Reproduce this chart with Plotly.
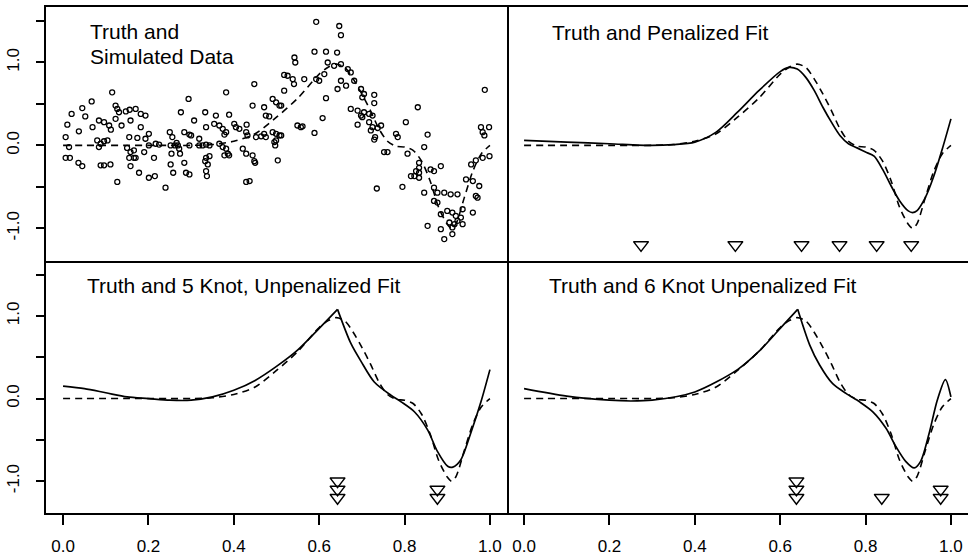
import plotly.graph_objects as go

# ---- true regression function (dashed curve) ----
truth_x = [0.00, 0.05, 0.10, 0.15, 0.20, 0.25, 0.30, 0.35, 0.40, 0.45, 0.50, 0.55,
           0.60, 0.62, 0.64, 0.66, 0.68, 0.70, 0.72, 0.74, 0.76, 0.78, 0.80, 0.82,
           0.84, 0.86, 0.88, 0.90, 0.91, 0.92, 0.94, 0.96, 0.98, 1.00]
truth_y = [0.00, 0.00, 0.00, 0.00, 0.00, 0.00, 0.00, 0.01, 0.05, 0.14, 0.34, 0.57,
           0.86, 0.94, 0.98, 0.94, 0.80, 0.62, 0.42, 0.20, 0.05, -0.01, -0.02, -0.06,
           -0.19, -0.43, -0.75, -0.95, -1.00, -0.95, -0.63, -0.31, -0.10, 0.00]

# ---- simulated data ----
sim_x = [0.115, 0.067, 0.045, 0.020, 0.052, 0.010, 0.037, 0.006, 0.014, 0.006, 0.016, 0.036,
         0.045, 0.088, 0.096, 0.111, 0.123, 0.127, 0.131, 0.147, 0.156, 0.170, 0.182, 0.193,
         0.084, 0.096, 0.108, 0.069, 0.112, 0.123, 0.137, 0.158, 0.182, 0.080, 0.088, 0.084,
         0.096, 0.104, 0.155, 0.174, 0.193, 0.201, 0.150, 0.166, 0.158, 0.155, 0.166, 0.170,
         0.158, 0.190, 0.178, 0.213, 0.201, 0.217, 0.225, 0.127, 0.201, 0.215, 0.240, 0.250,
         0.256, 0.252, 0.262, 0.266, 0.254, 0.252, 0.258,
         0.542, 0.544, 0.518, 0.526, 0.538, 0.541, 0.565, 0.448, 0.382, 0.294, 0.444, 0.471,
         0.491, 0.499, 0.507, 0.475, 0.483, 0.276, 0.333, 0.358, 0.389, 0.307, 0.335, 0.354,
         0.366, 0.374, 0.382, 0.378, 0.401, 0.405, 0.413, 0.430, 0.429, 0.432, 0.284, 0.296,
         0.300, 0.319, 0.452, 0.464, 0.471, 0.475, 0.491, 0.499, 0.507, 0.549, 0.499, 0.497,
         0.503, 0.269, 0.272, 0.274, 0.296, 0.319, 0.327, 0.335, 0.343, 0.366, 0.374, 0.382,
         0.389, 0.378, 0.386, 0.421, 0.429, 0.444, 0.450, 0.284, 0.335, 0.343, 0.333, 0.339,
         0.288, 0.296, 0.335, 0.337, 0.429, 0.437, 0.448, 0.518, 0.511, 0.557, 0.561, 0.589,
         0.511, 0.495,
         0.593, 0.647, 0.651, 0.589, 0.616, 0.642, 0.620, 0.635, 0.651, 0.667, 0.674, 0.593,
         0.600, 0.612, 0.616, 0.651, 0.663, 0.643, 0.682, 0.698, 0.705, 0.701, 0.729, 0.729,
         0.674, 0.690, 0.705, 0.717, 0.725, 0.698, 0.701, 0.831, 0.803, 0.608, 0.690, 0.717,
         0.725, 0.737, 0.745, 0.721, 0.731, 0.729, 0.780, 0.784, 0.752, 0.760, 0.807, 0.735,
         0.795, 0.834, 0.827, 0.823, 0.834,
         0.854, 0.846, 0.979, 0.983, 0.987, 0.998, 0.999, 0.983, 0.967, 0.956, 0.815, 0.834,
         0.834, 0.861, 0.869, 0.885, 0.846, 0.869, 0.877, 0.893, 0.908, 0.924, 0.869, 0.877,
         0.944, 0.960, 0.975, 0.967, 0.971, 0.960, 0.885, 0.900, 0.912, 0.920, 0.932, 0.924,
         0.936, 0.905, 0.917, 0.936, 0.854, 0.885, 0.912, 0.893, 0.912, 0.988]
sim_y = [0.64, 0.53, 0.45, 0.38, 0.35, 0.25, 0.17, 0.10, -0.02, -0.15, -0.15, -0.21,
         -0.25, -0.24, -0.24, -0.23, 0.48, 0.44, 0.40, 0.41, 0.43, 0.44, 0.38, 0.36,
         0.30, 0.28, 0.24, 0.22, 0.19, 0.32, 0.24, 0.30, 0.22, 0.06, 0.02, -0.02,
         0.05, 0.06, 0.10, 0.09, 0.08, 0.14, -0.03, -0.06, -0.08, -0.15, -0.15, -0.15,
         -0.25, -0.08, -0.33, -0.15, 0.00, 0.02, 0.01, -0.44, -0.39, -0.37, -0.51, 0.16,
         0.10, 0.00, 0.00, 0.03, -0.10, -0.23, -0.33,
         1.06, 1.00, 0.85, 0.84, 0.80, 0.74, 0.80, 0.74, 0.64, 0.56, 0.48, 0.46,
         0.56, 0.52, 0.48, 0.36, 0.35, 0.40, 0.40, 0.36, 0.37, 0.30, 0.22, 0.26,
         0.24, 0.20, 0.16, 0.13, 0.26, 0.22, 0.20, 0.25, 0.16, 0.12, 0.16, 0.13,
         0.12, 0.08, 0.10, 0.11, 0.14, 0.10, 0.16, 0.14, 0.12, 0.24, 0.06, 0.00,
         -0.18, 0.00, -0.04, -0.10, 0.00, 0.00, 0.00, 0.01, 0.00, 0.02, -0.02, -0.04,
         -0.12, -0.12, -0.10, -0.04, -0.10, -0.12, -0.21, -0.21, -0.15, -0.13, -0.19, -0.23,
         -0.33, -0.35, -0.31, -0.37, -0.44, -0.43, -0.19, 0.66, 0.48, 0.22, 0.23, 0.15,
         0.12, 0.04,
         1.49, 1.44, 1.33, 1.13, 1.13, 1.12, 1.00, 0.96, 0.98, 0.92, 0.88, 0.80,
         0.78, 0.86, 0.57, 0.78, 0.72, 0.68, 0.78, 0.68, 0.62, 0.58, 0.61, 0.51,
         0.44, 0.42, 0.40, 0.38, 0.36, 0.36, 0.34, 0.46, 0.28, 0.33, 0.25, 0.28,
         0.22, 0.21, 0.24, 0.18, 0.10, 0.07, 0.14, 0.10, -0.08, -0.08, -0.10, -0.52,
         -0.50, -0.21, -0.31, -0.37, -0.39,
         0.13, -0.02, 0.22, 0.16, 0.12, 0.22, -0.13, -0.15, -0.18, -0.23, -0.37, -0.33,
         -0.27, -0.29, -0.31, -0.25, -0.57, -0.51, -0.57, -0.57, -0.59, -0.59, -0.67, -0.69,
         -0.41, -0.43, -0.49, -0.61, -0.63, -0.81, -0.83, -0.79, -0.81, -0.85, -0.87, -0.91,
         -0.77, -0.93, -0.95, -0.95, -0.97, -1.01, -0.99, -1.13, -1.07, 0.67]

# ---- penalized spline fit ----
pen_x = [0.00, 0.10, 0.20, 0.30, 0.35, 0.40, 0.45, 0.50, 0.55, 0.60, 0.62, 0.64, 0.66,
         0.68, 0.70, 0.72, 0.74, 0.76, 0.78, 0.80, 0.82, 0.84, 0.86, 0.88, 0.90, 0.91,
         0.92, 0.94, 0.96, 0.98, 1.00]
pen_y = [0.06, 0.04, 0.02, 0.00, 0.01, 0.04, 0.16, 0.40, 0.66, 0.89, 0.94, 0.92, 0.82,
         0.66, 0.46, 0.28, 0.12, 0.02, -0.03, -0.08, -0.13, -0.29, -0.49, -0.67, -0.79, -0.81,
         -0.79, -0.63, -0.37, -0.04, 0.32]
pen_knots = [0.274, 0.495, 0.650, 0.739, 0.826, 0.907]

# ---- 5 knot unpenalized fit ----
k5_x = [0.00, 0.05, 0.10, 0.15, 0.20, 0.25, 0.30, 0.35, 0.40, 0.45, 0.50, 0.55, 0.60,
        0.643, 0.674, 0.698, 0.729, 0.768, 0.792, 0.823, 0.854, 0.877, 0.901, 0.913,
        0.932, 0.955, 0.979, 1.00]
k5_y = [0.15, 0.12, 0.07, 0.02, 0.00, -0.02, -0.02, 0.02, 0.10, 0.22, 0.39, 0.59, 0.85,
        1.08, 0.67, 0.45, 0.20, 0.04, -0.04, -0.16, -0.38, -0.64, -0.82, -0.83,
        -0.74, -0.42, -0.04, 0.35]
k5_knots = [0.643, 0.643, 0.643, 0.877, 0.877]

# ---- 6 knot unpenalized fit ----
k6_x = [0.00, 0.10, 0.20, 0.25, 0.30, 0.40, 0.50, 0.55, 0.60, 0.641, 0.669, 0.692, 0.723,
        0.755, 0.786, 0.817, 0.848, 0.871, 0.894, 0.914, 0.929, 0.949, 0.968, 0.987, 1.00]
k6_y = [0.12, 0.03, -0.02, -0.03, -0.02, 0.08, 0.35, 0.57, 0.85, 1.08, 0.65, 0.41, 0.18,
        0.06, -0.04, -0.16, -0.36, -0.58, -0.76, -0.84, -0.76, -0.42, -0.02, 0.23, 0.02]
k6_knots = [0.638, 0.638, 0.638, 0.838, 0.976, 0.976]

titles = ["Truth and", "Simulated Data", "Truth and Penalized Fit",
          "Truth and 5 Knot, Unpenalized Fit", "Truth and 6 Knot Unpenalized Fit"]
x_ticks = [0.0, 0.2, 0.4, 0.6, 0.8, 1.0]
y_ticks = [-1.0, -0.5, 0.0, 0.5, 1.0, 1.5]
y_tick_text = ["-1.0", "", "0.0", "", "1.0", ""]

KNOT_BASE = -1.2
KNOT_STEP = 0.1
FONT = "Liberation Sans, Arial, Helvetica, sans-serif"

fig = go.Figure()


def add_truth(ax):
    fig.add_trace(go.Scatter(x=truth_x, y=truth_y, mode="lines", xaxis="x" + ax, yaxis="y" + ax,
                             line=dict(color="black", width=1.6, dash="7px,5px", shape="spline",
                                       smoothing=0.8),
                             hoverinfo="skip"))


def add_fit(ax, xs, ys, cusp=False):
    pieces = [(xs, ys)]
    if cusp:
        i = ys.index(max(ys))
        pieces = [(xs[:i + 1], ys[:i + 1]), (xs[i:], ys[i:])]
    for px, py in pieces:
        fig.add_trace(go.Scatter(x=px, y=py, mode="lines", xaxis="x" + ax, yaxis="y" + ax,
                                 line=dict(color="black", width=1.7, shape="spline",
                                           smoothing=0.8),
                                 hoverinfo="skip"))


def add_knots(ax, knots):
    # coincident knots are stacked upwards
    ky = []
    seen = {}
    for k in knots:
        n = seen.get(k, 0)
        ky.append(KNOT_BASE + KNOT_STEP * n)
        seen[k] = n + 1
    fig.add_trace(go.Scatter(x=knots, y=ky, mode="markers", xaxis="x" + ax, yaxis="y" + ax,
                             marker=dict(symbol="triangle-down-open", size=13, color="black",
                                         line=dict(width=1.5, color="black"))))


# panel 1: data and truth
fig.add_trace(go.Scatter(x=sim_x, y=sim_y, mode="markers", xaxis="x", yaxis="y",
                         marker=dict(symbol="circle-open", size=5, color="black",
                                     line=dict(width=1.3, color="black"))))
add_truth("")
# panel 2: penalized fit
add_truth("2")
add_fit("2", pen_x, pen_y)
add_knots("2", pen_knots)
# panel 3: 5 knot fit
add_truth("3")
add_fit("3", k5_x, k5_y, cusp=True)
add_knots("3", k5_knots)
# panel 4: 6 knot fit
add_truth("4")
add_fit("4", k6_x, k6_y, cusp=True)
add_knots("4", k6_knots)

W, H = 968, 556
LX = [46 / W, 507 / W]
RX = [507 / W, 1.0]
TY = [1 - 263 / H, 1 - 7 / H]
BY = [1 - 518 / H, 1 - 263 / H]
XR = [-0.04, 1.04]
YR = [-1.39, 1.67]

base = dict(showgrid=False, zeroline=False, linecolor="black", linewidth=2)
tickfont = dict(family=FONT, size=17, color="black")


def xax(domain, anchor, labels, mirror):
    d = dict(base, domain=domain, anchor=anchor, range=XR, showline=True, mirror=mirror)
    if labels:
        d.update(ticks="outside", ticklen=10, tickwidth=1.5, tickcolor="black",
                 tickvals=x_ticks, ticktext=[f"{v:.1f}" for v in x_ticks],
                 tickfont=tickfont, ticklabelstandoff=6)
    else:
        d.update(showticklabels=False, ticks="")
    return d


def yax(domain, anchor, labels):
    d = dict(base, domain=domain, anchor=anchor, range=YR)
    if labels:
        d.update(showline=True, mirror=True,
                 ticks="outside", ticklen=8, tickwidth=1.5, tickcolor="black",
                 tickvals=y_ticks, ticktext=y_tick_text, tickangle=-90,
                 tickfont=tickfont, ticklabelstandoff=10)
    else:
        d.update(showline=False, showticklabels=False, ticks="")
    return d


title_font = dict(family=FONT, size=21, color="black")
title_pos = [(88, 32), (88, 57), (550, 33), (85, 288), (547, 288)]
annotations = [dict(text=t, x=px / W, y=1 - py / H, xref="paper", yref="paper",
                    xanchor="left", yanchor="middle", showarrow=False, font=title_font)
               for t, (px, py) in zip(titles, title_pos)]

fig.update_layout(
    width=W, height=H,
    margin=dict(l=0, r=0, t=0, b=0),
    paper_bgcolor="white", plot_bgcolor="white",
    showlegend=False,
    xaxis=xax(LX, "y", False, True), yaxis=yax(TY, "x", True),
    xaxis2=xax(RX, "y2", False, True), yaxis2=yax(TY, "x2", False),
    xaxis3=xax(LX, "y3", True, False), yaxis3=yax(BY, "x3", True),
    xaxis4=xax(RX, "y4", True, False), yaxis4=yax(BY, "x4", False),
    annotations=annotations,
)

fig.write_html("out.html")
